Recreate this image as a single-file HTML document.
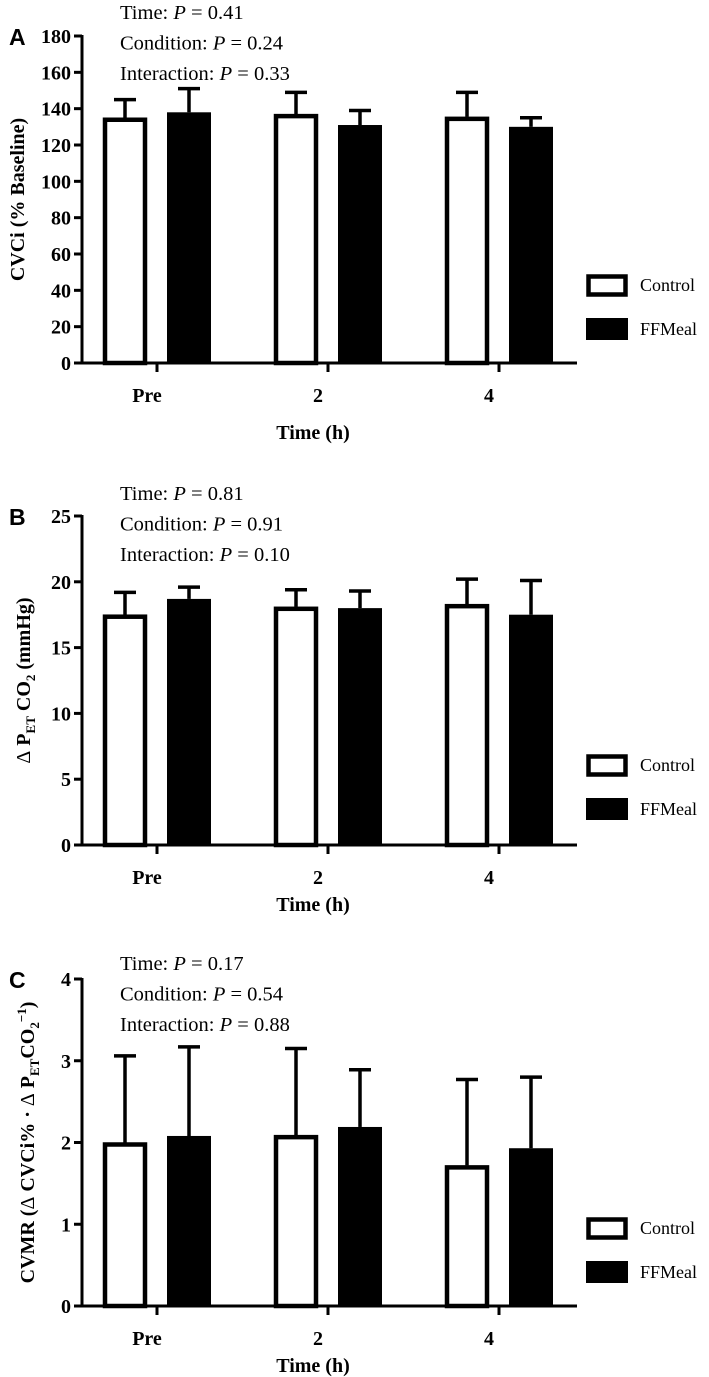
<!DOCTYPE html>
<html><head><meta charset="utf-8"><style>
html,body{margin:0;padding:0;background:#fff;}
svg{display:block;}
text{font-family:"Liberation Serif",serif;fill:#000;}
.tick{font-weight:bold;font-size:20px;}
.stat{font-size:20.5px;}
.ylab{font-weight:bold;font-size:20px;}
.letter{font-family:"Liberation Sans",sans-serif;font-weight:bold;font-size:23px;}
.leg{font-size:18px;}
</style></head><body>
<svg id="fig" width="709" height="1377" viewBox="0 0 709 1377" xmlns="http://www.w3.org/2000/svg"></svg>
<script>
const categories = ["Pre","2","4"];
const seriesNames = ["Control","FFMeal"];
const aControl = [135,137,135.5];
const aControlErr = [145,149,149];
const aFF = [138,131,130];
const aFFErr = [151,139,135];
const aTicks = [0,20,40,60,80,100,120,140,160,180];
const bControl = [17.5,18.1,18.3];
const bControlErr = [19.2,19.4,20.2];
const bFF = [18.7,18.0,17.5];
const bFFErr = [19.6,19.3,20.1];
const bTicks = [0,5,10,15,20,25];
const cControl = [2.0,2.09,1.72];
const cControlErr = [3.06,3.15,2.77];
const cFF = [2.08,2.19,1.93];
const cFFErr = [3.17,2.89,2.80];
const cTicks = [0,1,2,3,4];
const aStats = ["0.41","0.24","0.33"];
const bStats = ["0.81","0.91","0.10"];
const cStats = ["0.17","0.54","0.88"];

const NS="http://www.w3.org/2000/svg";
const svg=document.getElementById('fig');
function mk(tag,attrs,parent){const e=document.createElementNS(NS,tag);for(const k in attrs)e.setAttribute(k,attrs[k]);(parent||svg).appendChild(e);return e;}

function panel(cfg){
  const g=mk('g',{});
  
  
  const axX=82, axEnd=577, y0=cfg.y0, yTop=cfg.yTop, maxV=cfg.ticks[cfg.ticks.length-1];
  const yS=v=>y0-(v/maxV)*(y0-yTop);
  const xS=i=>157+i*171;
  const sets=[[cfg.ctrl,cfg.ctrlErr,-32,false],[cfg.ff,cfg.ffErr,32,true]];
  sets.forEach((s,si)=>{
    s[0].forEach((v,i)=>{
      const cx=xS(i)+s[2], w=44;
      const top=yS(v), eTop=yS(s[1][i]);
      const el=mk('line',{x1:cx,x2:cx,y1:top,y2:eTop,stroke:'#000','stroke-width':3.5},g);
      
      
      const cap=mk('line',{x1:cx-11,x2:cx+11,y1:eTop,y2:eTop,stroke:'#000','stroke-width':3.5},g);
      
      
      let r;
      if(s[3]) r=mk('rect',{x:cx-w/2,y:top,width:w,height:y0-top,fill:'#000'},g);
      else r=mk('rect',{x:cx-w/2+2,y:top+2,width:w-4,height:y0-top-2,fill:'#fff',stroke:'#000','stroke-width':4.5},g);
      
      
    });
  });
  const ya=mk('line',{x1:axX,x2:axX,y1:yTop-1,y2:y0+1.5,stroke:'#000','stroke-width':3},g);
  
  
  const xa=mk('line',{x1:axX-8,x2:axEnd,y1:y0,y2:y0,stroke:'#000','stroke-width':3},g);
  
  
  cfg.ticks.forEach(t=>{
    mk('line',{x1:axX-8,x2:axX,y1:yS(t),y2:yS(t),stroke:'#000','stroke-width':3},g);
    const tl=mk('text',{x:axX-11,y:yS(t)+7,'text-anchor':'end',class:'tick'},g);
    tl.textContent=t;
    
    
  });
  categories.forEach((c,i)=>{
    mk('line',{x1:xS(i),x2:xS(i),y1:y0,y2:y0+9,stroke:'#000','stroke-width':3},g);
    const tl=mk('text',{x:xS(i)-10,y:y0+39,'text-anchor':'middle',class:'tick'},g);
    tl.textContent=c;
    
    
  });
  const xt=mk('text',{x:313,y:cfg.xtY,'text-anchor':'middle',class:'tick'},g);
  xt.textContent='Time (h)';
  
  
  const yt=mk('text',{transform:`translate(${cfg.ytX},${(y0+yTop)/2}) rotate(-90)`,'text-anchor':'middle',class:'ylab'},g);
  yt.innerHTML=cfg.ytitle;
  
  
  const lt=mk('text',{x:9,y:yTop+9,class:'letter'},g);
  lt.textContent=cfg.id;
  
  
  const labels=['Time: ','Condition: ','Interaction: '];
  cfg.stats.forEach((p,k)=>{
    const st=mk('text',{x:120,y:cfg.statY+k*30.5,class:'stat'},g);
    st.innerHTML=labels[k]+'<tspan font-style="italic">P</tspan> = '+p;
    
    
  });
  seriesNames.forEach((n,k)=>{
    const ly=cfg.legY+k*44;
    let b;
    if(k==0) b=mk('rect',{x:588.5,y:ly-8.5,width:37,height:18,fill:'#fff',stroke:'#000','stroke-width':4.5},g);
    else b=mk('rect',{x:586,y:ly-11,width:42,height:22,fill:'#000'},g);
    
    
    const t=mk('text',{x:640,y:ly+6,class:'leg'},g);
    t.textContent=n;
    
    
  });
}
panel({id:'A',y0:363,yTop:36,ticks:aTicks,ctrl:aControl,ctrlErr:aControlErr,ff:aFF,ffErr:aFFErr,stats:aStats,statY:19,legY:285,xtY:439,ytX:24,
  ytitle:'CVCi (% Baseline)'});
panel({id:'B',y0:845,yTop:516,ticks:bTicks,ctrl:bControl,ctrlErr:bControlErr,ff:bFF,ffErr:bFFErr,stats:bStats,statY:500,legY:765,xtY:911,ytX:30,
  ytitle:'<tspan font-weight="normal">Δ</tspan> P<tspan font-size="13" dy="5">ET</tspan><tspan dy="-5"> CO</tspan><tspan font-size="13" dy="5">2</tspan><tspan dy="-5"> (mmHg)</tspan>'});
panel({id:'C',y0:1306,yTop:979,ticks:cTicks,ctrl:cControl,ctrlErr:cControlErr,ff:cFF,ffErr:cFFErr,stats:cStats,statY:970,legY:1228,xtY:1372,ytX:34,
  ytitle:'CVMR (<tspan font-weight="normal">Δ</tspan> CVCi% · <tspan font-weight="normal">Δ</tspan> P<tspan font-size="13" dy="5">ET</tspan><tspan dy="-5">CO</tspan><tspan font-size="13" dy="5">2</tspan><tspan font-size="13" dy="-13">−1</tspan><tspan dy="8">)</tspan>'});
</script>
</body></html>
